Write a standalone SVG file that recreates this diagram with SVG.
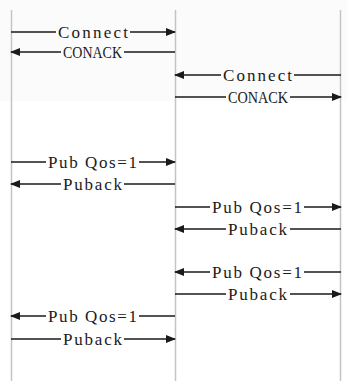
<svg xmlns="http://www.w3.org/2000/svg" width="361" height="381" viewBox="0 0 361 381">
<style>
.life{stroke:#c4c4c4;stroke-width:1.5;fill:none}
.msg{stroke:#1a1a1a;stroke-width:1.5;fill:none}
.lbl{font-family:"Liberation Serif","Noto Sans CJK SC",serif;font-size:17px;fill:#1a1a1a;text-anchor:start}
</style>
<defs>
<marker id="ah" viewBox="0 0 10 8" refX="9" refY="4" markerWidth="10" markerHeight="8" markerUnits="userSpaceOnUse" orient="auto">
<path d="M0,0 L10,4 L0,8 z" fill="#1a1a1a"/>
</marker>
</defs>
<rect x="0" y="0" width="347" height="101" fill="#fbfbfb"/>
<g id="lifelines">
<line class="life" x1="11.5" y1="10" x2="11.5" y2="381"/>
<line class="life" x1="175.5" y1="10" x2="175.5" y2="381"/>
<line class="life" x1="340.5" y1="10" x2="340.5" y2="381"/>
</g>
<g id="connectors">
<line class="msg" x1="11" y1="32" x2="56" y2="32"/><line class="msg" x1="130" y1="32" x2="175" y2="32" marker-end="url(#ah)"/>
<line class="msg" x1="61" y1="52" x2="11" y2="52" marker-end="url(#ah)"/><line class="msg" x1="124" y1="52" x2="175" y2="52"/>
<line class="msg" x1="221" y1="75" x2="175" y2="75" marker-end="url(#ah)"/><line class="msg" x1="294" y1="75" x2="341" y2="75"/>
<line class="msg" x1="175" y1="97" x2="226" y2="97"/><line class="msg" x1="290" y1="97" x2="341" y2="97" marker-end="url(#ah)"/>
<line class="msg" x1="11" y1="162" x2="46" y2="162"/><line class="msg" x1="139" y1="162" x2="175" y2="162" marker-end="url(#ah)"/>
<line class="msg" x1="61" y1="184" x2="11" y2="184" marker-end="url(#ah)"/><line class="msg" x1="124" y1="184" x2="175" y2="184"/>
<line class="msg" x1="175" y1="207" x2="210" y2="207"/><line class="msg" x1="304" y1="207" x2="341" y2="207" marker-end="url(#ah)"/>
<line class="msg" x1="226" y1="229" x2="175" y2="229" marker-end="url(#ah)"/><line class="msg" x1="290" y1="229" x2="341" y2="229"/>
<line class="msg" x1="210" y1="272" x2="175" y2="272" marker-end="url(#ah)"/><line class="msg" x1="304" y1="272" x2="341" y2="272"/>
<line class="msg" x1="175" y1="294" x2="226" y2="294"/><line class="msg" x1="290" y1="294" x2="341" y2="294" marker-end="url(#ah)"/>
<line class="msg" x1="46" y1="316" x2="11" y2="316" marker-end="url(#ah)"/><line class="msg" x1="139" y1="316" x2="175" y2="316"/>
<line class="msg" x1="11" y1="339" x2="61" y2="339"/><line class="msg" x1="124" y1="339" x2="175" y2="339" marker-end="url(#ah)"/>
</g>
<g id="m1"><text class="lbl" x="58" y="37.5" textLength="70" lengthAdjust="spacing">Connect</text></g>
<g id="m2"><text class="lbl" x="63" y="57.5" textLength="59" lengthAdjust="spacingAndGlyphs">CONACK</text></g>
<g id="m3"><text class="lbl" x="223" y="80.5" textLength="69" lengthAdjust="spacing">Connect</text></g>
<g id="m4"><text class="lbl" x="228" y="102.5" textLength="60" lengthAdjust="spacingAndGlyphs">CONACK</text></g>
<g id="m5"><text class="lbl" x="48" y="167.5" textLength="89" lengthAdjust="spacing">Pub Qos=1</text></g>
<g id="m6"><text class="lbl" x="63" y="189.5" textLength="59" lengthAdjust="spacing">Puback</text></g>
<g id="m7"><text class="lbl" x="212" y="212.5" textLength="90" lengthAdjust="spacing">Pub Qos=1</text></g>
<g id="m8"><text class="lbl" x="228" y="234.5" textLength="59" lengthAdjust="spacing">Puback</text></g>
<g id="m9"><text class="lbl" x="212" y="277.5" textLength="90" lengthAdjust="spacing">Pub Qos=1</text></g>
<g id="m10"><text class="lbl" x="228" y="299.5" textLength="59" lengthAdjust="spacing">Puback</text></g>
<g id="m11"><text class="lbl" x="48" y="321.5" textLength="89" lengthAdjust="spacing">Pub Qos=1</text></g>
<g id="m12"><text class="lbl" x="63" y="344.5" textLength="59" lengthAdjust="spacing">Puback</text></g>
</svg>
